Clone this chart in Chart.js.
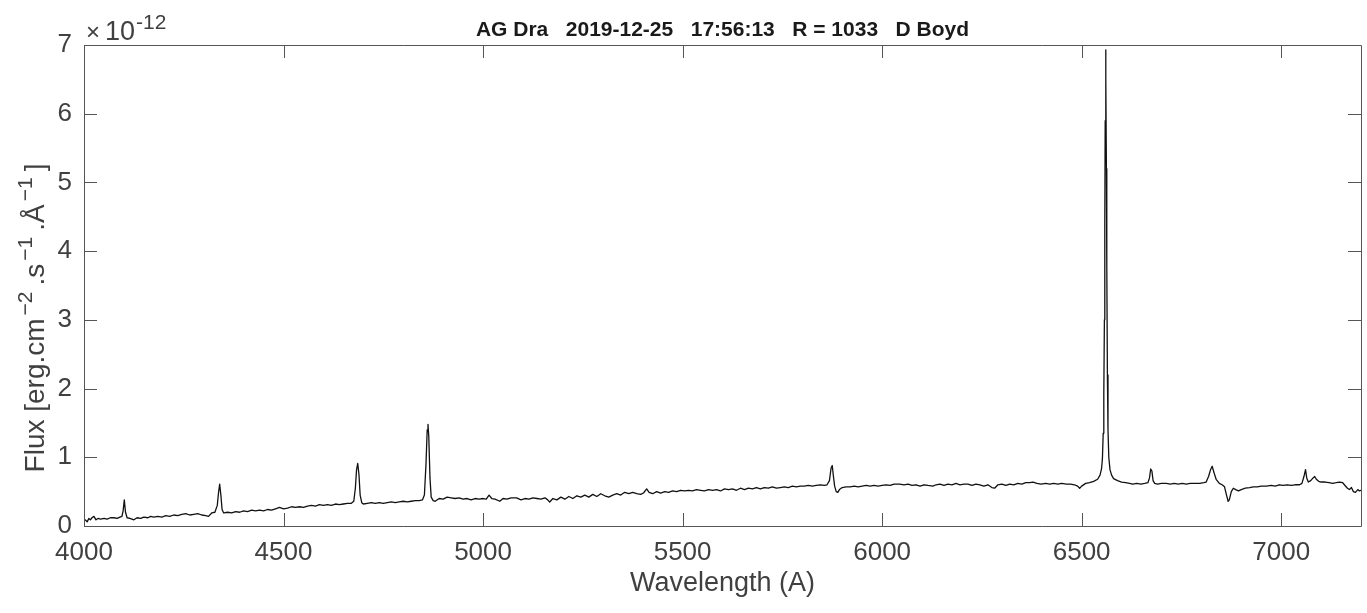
<!DOCTYPE html>
<html>
<head>
<meta charset="utf-8">
<script src="https://cdn.jsdelivr.net/npm/chart.js@4/dist/chart.umd.min.js"></script>
<style>
  html, body { margin: 0; padding: 0; background: #fff; }
  #wrap { width: 1367px; height: 613px; }
</style>
</head>
<body>
<div id="wrap"><canvas id="chart" width="1367" height="613"></canvas></div>
<script>
// Spectrum: wavelength in Angstrom, flux in units of 1e-12 erg/cm2/s/A
const wavelengths = [
  4000, 4005, 4008, 4012, 4016, 4020, 4025, 4030, 4035, 4042, 4050, 4058, 4066, 4075, 4083, 4090, 4095, 4098, 4101, 4104,
  4108, 4115, 4125, 4133, 4142, 4150, 4160, 4167, 4175, 4185, 4195, 4205, 4215, 4225, 4235, 4245, 4255, 4265, 4275, 4285,
  4295, 4305, 4312, 4320, 4328, 4334, 4337, 4340, 4343, 4346, 4350, 4360, 4370, 4380, 4390, 4400, 4410, 4420, 4430, 4440,
  4450, 4460, 4470, 4480, 4490, 4500, 4510, 4520, 4530, 4540, 4550, 4560, 4570, 4580, 4590, 4600, 4610, 4620, 4630, 4640,
  4650, 4660, 4670, 4676, 4680, 4683, 4686, 4689, 4692, 4696, 4700, 4710, 4720, 4730, 4740, 4750, 4760, 4770, 4780, 4790,
  4800, 4810, 4820, 4830, 4840, 4848, 4853, 4857, 4860, 4862, 4864, 4867, 4870, 4875, 4880, 4890, 4900, 4910, 4920, 4930,
  4940, 4950, 4960, 4970, 4980, 4990, 5000, 5008, 5015, 5022, 5030, 5042, 5050, 5060, 5070, 5084, 5095, 5105, 5115, 5125,
  5135, 5145, 5155, 5162, 5167, 5175, 5185, 5195, 5205, 5215, 5225, 5235, 5245, 5255, 5265, 5275, 5285, 5295, 5305, 5315,
  5325, 5335, 5345, 5355, 5365, 5375, 5385, 5395, 5402, 5410, 5416, 5425, 5435, 5445, 5455, 5465, 5475, 5485, 5495, 5505,
  5515, 5525, 5535, 5545, 5555, 5565, 5575, 5585, 5595, 5605, 5615, 5625, 5635, 5645, 5655, 5665, 5675, 5685, 5695, 5705,
  5715, 5725, 5735, 5745, 5755, 5765, 5775, 5785, 5795, 5805, 5815, 5825, 5835, 5845, 5855, 5862, 5868, 5872, 5875, 5878,
  5881, 5885, 5889, 5893, 5900, 5910, 5920, 5930, 5940, 5950, 5960, 5970, 5980, 5990, 6000, 6010, 6020, 6030, 6044, 6055,
  6065, 6075, 6085, 6095, 6105, 6115, 6127, 6135, 6145, 6155, 6165, 6175, 6185, 6195, 6205, 6215, 6225, 6235, 6245, 6255,
  6265, 6275, 6282, 6290, 6300, 6310, 6320, 6330, 6340, 6350, 6360, 6370, 6378, 6388, 6398, 6410, 6420, 6430, 6440, 6450,
  6462, 6472, 6482, 6490, 6495, 6500, 6510, 6520, 6530, 6540, 6546, 6550, 6552, 6554, 6555.5, 6557, 6558, 6559, 6560, 6561,
  6562, 6563, 6564.5, 6566, 6568, 6571, 6575, 6580, 6590, 6600, 6610, 6620, 6628, 6638, 6648, 6658, 6666, 6670, 6673, 6676,
  6679, 6683, 6690, 6700, 6712, 6722, 6732, 6742, 6752, 6762, 6772, 6782, 6796, 6806, 6812, 6818, 6823, 6827, 6832, 6837,
  6845, 6852, 6858, 6863, 6867, 6870, 6875, 6880, 6886, 6893, 6900, 6910, 6921, 6930, 6940, 6950, 6963, 6975, 6985, 6995,
  7005, 7015, 7025, 7035, 7046, 7052, 7057, 7061, 7064, 7068, 7074, 7080, 7084, 7088, 7094, 7100, 7110, 7120, 7129, 7138,
  7146, 7154, 7160, 7166, 7171, 7176, 7181, 7186, 7192, 7196, 7200
];
const fluxes = [
  0.10, 0.08, 0.06, 0.11, 0.09, 0.12, 0.14, 0.09, 0.11, 0.10, 0.11, 0.10, 0.12, 0.12, 0.11, 0.13, 0.14, 0.22, 0.38, 0.20,
  0.12, 0.11, 0.09, 0.12, 0.11, 0.13, 0.12, 0.14, 0.13, 0.14, 0.13, 0.15, 0.14, 0.16, 0.15, 0.17, 0.18, 0.16, 0.17, 0.18,
  0.16, 0.15, 0.14, 0.19, 0.20, 0.30, 0.48, 0.61, 0.45, 0.24, 0.19, 0.20, 0.19, 0.21, 0.20, 0.22, 0.21, 0.23, 0.22, 0.23,
  0.22, 0.24, 0.23, 0.25, 0.27, 0.25, 0.26, 0.28, 0.27, 0.28, 0.27, 0.29, 0.30, 0.29, 0.31, 0.30, 0.31, 0.30, 0.32, 0.31,
  0.32, 0.33, 0.33, 0.36, 0.55, 0.82, 0.91, 0.75, 0.45, 0.34, 0.32, 0.33, 0.34, 0.33, 0.34, 0.33, 0.34, 0.35, 0.34, 0.35,
  0.36, 0.35, 0.36, 0.37, 0.37, 0.38, 0.45, 0.90, 1.40, 1.48, 1.30, 0.70, 0.42, 0.37, 0.36, 0.40, 0.39, 0.42, 0.41, 0.40,
  0.41, 0.39, 0.40, 0.38, 0.40, 0.39, 0.40, 0.39, 0.45, 0.40, 0.39, 0.36, 0.40, 0.39, 0.41, 0.41, 0.38, 0.40, 0.39, 0.41,
  0.40, 0.39, 0.41, 0.38, 0.35, 0.40, 0.38, 0.42, 0.39, 0.43, 0.40, 0.44, 0.42, 0.45, 0.42, 0.46, 0.43, 0.47, 0.44, 0.42,
  0.45, 0.47, 0.45, 0.49, 0.47, 0.49, 0.47, 0.46, 0.48, 0.54, 0.49, 0.47, 0.50, 0.48, 0.50, 0.49, 0.51, 0.50, 0.52, 0.51,
  0.52, 0.51, 0.53, 0.52, 0.51, 0.53, 0.52, 0.53, 0.51, 0.54, 0.53, 0.54, 0.52, 0.55, 0.53, 0.55, 0.54, 0.56, 0.54, 0.56,
  0.55, 0.57, 0.55, 0.56, 0.57, 0.56, 0.58, 0.57, 0.58, 0.58, 0.59, 0.58, 0.59, 0.60, 0.59, 0.60, 0.66, 0.84, 0.88, 0.72,
  0.58, 0.50, 0.49, 0.53, 0.56, 0.57, 0.57, 0.58, 0.57, 0.58, 0.59, 0.58, 0.59, 0.58, 0.59, 0.60, 0.59, 0.61, 0.61, 0.60,
  0.61, 0.59, 0.60, 0.58, 0.60, 0.59, 0.58, 0.60, 0.61, 0.59, 0.61, 0.60, 0.62, 0.60, 0.61, 0.61, 0.59, 0.61, 0.60, 0.58,
  0.60, 0.56, 0.55, 0.60, 0.61, 0.59, 0.61, 0.60, 0.62, 0.61, 0.63, 0.63, 0.64, 0.62, 0.61, 0.62, 0.61, 0.62, 0.61, 0.62,
  0.61, 0.61, 0.60, 0.58, 0.55, 0.58, 0.62, 0.63, 0.65, 0.68, 0.74, 0.84, 0.98, 1.35, 1.90, 3.00, 4.40, 5.90, 6.93, 6.50,
  5.20, 3.80, 2.20, 1.40, 1.00, 0.82, 0.74, 0.69, 0.66, 0.64, 0.63, 0.62, 0.61, 0.62, 0.61, 0.62, 0.63, 0.70, 0.83, 0.80,
  0.66, 0.62, 0.61, 0.62, 0.62, 0.61, 0.62, 0.61, 0.62, 0.61, 0.62, 0.62, 0.62, 0.63, 0.64, 0.72, 0.82, 0.87, 0.77, 0.68,
  0.62, 0.60, 0.57, 0.45, 0.36, 0.38, 0.50, 0.55, 0.53, 0.51, 0.53, 0.55, 0.56, 0.57, 0.57, 0.58, 0.58, 0.59, 0.58, 0.60,
  0.59, 0.60, 0.59, 0.60, 0.60, 0.62, 0.72, 0.82, 0.70, 0.64, 0.66, 0.70, 0.72, 0.68, 0.65, 0.64, 0.64, 0.63, 0.62, 0.63,
  0.64, 0.63, 0.59, 0.55, 0.53, 0.56, 0.50, 0.49, 0.53, 0.51, 0.52
];
const xTickValues = [4000, 4500, 5000, 5500, 6000, 6500, 7000];
const yTickValues = [0, 1, 2, 3, 4, 5, 6, 7];
const chartTitle = 'AG Dra   2019-12-25   17:56:13   R = 1033   D Boyd';
const xTitle = 'Wavelength (A)';

const FONT = "'Liberation Sans', Arial, sans-serif";
const TEXT = '#404040';
const AXIS = '#555555';
const TICK_LEN = 13;

// MATLAB-like box with inward ticks, titles and the exponent label
const matlabAxes = {
  id: 'matlabAxes',
  afterDraw(chart) {
    const { ctx, chartArea: a, scales } = chart;
    const x = scales.x, y = scales.y;
    ctx.save();
    ctx.strokeStyle = AXIS;
    ctx.lineWidth = 1;
    ctx.beginPath();
    ctx.rect(Math.round(a.left) + 0.5, Math.round(a.top) + 0.5,
             Math.round(a.right - a.left), Math.round(a.bottom - a.top));
    ctx.stroke();

    ctx.beginPath();
    xTickValues.forEach(v => {
      const px = Math.round(x.getPixelForValue(v)) + 0.5;
      ctx.moveTo(px, a.bottom); ctx.lineTo(px, a.bottom - TICK_LEN);
      ctx.moveTo(px, a.top); ctx.lineTo(px, a.top + TICK_LEN);
    });
    yTickValues.forEach(v => {
      const py = Math.round(y.getPixelForValue(v)) + 0.5;
      ctx.moveTo(a.left, py); ctx.lineTo(a.left + TICK_LEN, py);
      ctx.moveTo(a.right, py); ctx.lineTo(a.right - TICK_LEN, py);
    });
    ctx.stroke();

    // title
    ctx.fillStyle = '#1a1a1a';
    ctx.font = 'bold 21px ' + FONT;
    ctx.textAlign = 'center';
    ctx.textBaseline = 'middle';
    ctx.fillText(chartTitle, (a.left + a.right) / 2, 30);

    // x axis title
    ctx.fillStyle = TEXT;
    ctx.font = '27px ' + FONT;
    ctx.fillText(xTitle, (a.left + a.right) / 2, 584);

    // exponent label
    ctx.textAlign = 'left';
    ctx.textBaseline = 'alphabetic';
    ctx.font = '24px ' + FONT;
    ctx.fillText('\u00d7', a.left + 2, 40);
    ctx.font = '27px ' + FONT;
    ctx.fillText('10', a.left + 21, 40);
    ctx.font = '21px ' + FONT;
    ctx.fillText('-12', a.left + 52, 29);

    // y axis title with superscripts
    const parts = [
      ['Flux [erg.cm', false], ['\u22122', true], ['.s', false], ['\u22121', true],
      ['.\u00c5', false], ['\u22121', true], [']', false]
    ];
    const mainFont = '28px ' + FONT, supFont = '21px ' + FONT;
    const gapBefore = 3, gapAfter = 6;
    let total = 0;
    parts.forEach(([t, sup]) => {
      ctx.font = sup ? supFont : mainFont;
      total += ctx.measureText(t).width + (sup ? gapBefore + gapAfter : 0);
    });
    ctx.translate(44, 318);
    ctx.rotate(-Math.PI / 2);
    let cx = -total / 2;
    parts.forEach(([t, sup]) => {
      ctx.font = sup ? supFont : mainFont;
      if (sup) cx += gapBefore;
      ctx.fillText(t, cx, sup ? -12 : 0);
      cx += ctx.measureText(t).width + (sup ? gapAfter : 0);
    });
    ctx.restore();
  }
};

new Chart(document.getElementById('chart'), {
  type: 'line',
  data: {
    datasets: [{
      data: wavelengths.map((w, i) => ({ x: w, y: fluxes[i] })),
      borderColor: '#111111',
      borderWidth: 1.3,
      borderJoinStyle: 'round',
      pointRadius: 0,
      tension: 0,
      fill: false
    }]
  },
  options: {
    responsive: false,
    animation: false,
    events: [],
    layout: { padding: { top: 45, right: 6, left: 0, bottom: 0 } },
    plugins: { legend: { display: false }, tooltip: { enabled: false } },
    scales: {
      x: {
        type: 'linear',
        min: 4000,
        max: 7200,
        afterBuildTicks: s => { s.ticks = xTickValues.map(v => ({ value: v })); },
        afterFit: s => { s.height = 87; },
        grid: { display: false, drawTicks: false },
        border: { display: false },
        ticks: {
          color: TEXT, font: { family: FONT, size: 26 }, padding: 11, maxRotation: 0, autoSkip: false,
          callback: v => String(v)
        }
      },
      y: {
        min: 0,
        max: 7,
        afterBuildTicks: s => { s.ticks = yTickValues.map(v => ({ value: v })); },
        afterFit: s => { s.width = 84; },
        grid: { display: false, drawTicks: false },
        border: { display: false },
        ticks: { color: TEXT, font: { family: FONT, size: 26 }, padding: 12, callback: v => String(v) }
      }
    }
  },
  plugins: [matlabAxes]
});
</script>
</body>
</html>
